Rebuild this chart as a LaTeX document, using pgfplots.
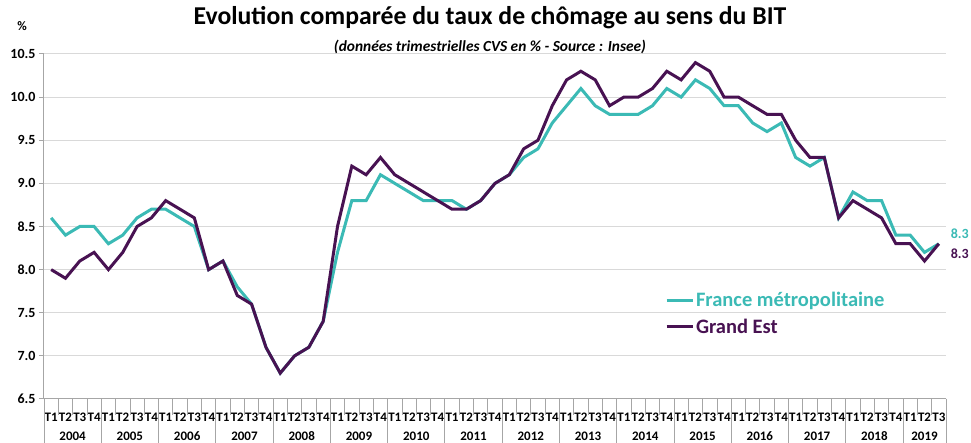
\documentclass[border=0pt]{standalone}
\usepackage{pgfplots}
\pgfplotsset{compat=1.18}
\usepackage{pgfplotstable}
\usepackage{fontspec}
\setmainfont{Carlito}
\definecolor{frcol}{RGB}{59,186,181}
\definecolor{gecol}{RGB}{72,18,82}
\definecolor{gridc}{RGB}{217,217,217}
\definecolor{axc}{RGB}{166,166,166}

% quarterly unemployment rate, 2004T1 .. 2019T3
\pgfplotstableread{
idx fr ge
0 8.6 8.0
1 8.4 7.9
2 8.5 8.1
3 8.5 8.2
4 8.3 8.0
5 8.4 8.2
6 8.6 8.5
7 8.7 8.6
8 8.7 8.8
9 8.6 8.7
10 8.5 8.6
11 8.0 8.0
12 8.1 8.1
13 7.8 7.7
14 7.6 7.6
15 7.1 7.1
16 6.8 6.8
17 7.0 7.0
18 7.1 7.1
19 7.4 7.4
20 8.2 8.5
21 8.8 9.2
22 8.8 9.1
23 9.1 9.3
24 9.0 9.1
25 8.9 9.0
26 8.8 8.9
27 8.8 8.8
28 8.8 8.7
29 8.7 8.7
30 8.8 8.8
31 9.0 9.0
32 9.1 9.1
33 9.3 9.4
34 9.4 9.5
35 9.7 9.9
36 9.9 10.2
37 10.1 10.3
38 9.9 10.2
39 9.8 9.9
40 9.8 10.0
41 9.8 10.0
42 9.9 10.1
43 10.1 10.3
44 10.0 10.2
45 10.2 10.4
46 10.1 10.3
47 9.9 10.0
48 9.9 10.0
49 9.7 9.9
50 9.6 9.8
51 9.7 9.8
52 9.3 9.5
53 9.2 9.3
54 9.3 9.3
55 8.6 8.6
56 8.9 8.8
57 8.8 8.7
58 8.8 8.6
59 8.4 8.3
60 8.4 8.3
61 8.2 8.1
62 8.3 8.3
}\chomage

\begin{document}
\begin{tikzpicture}
\begin{axis}[
    at={(44pt,44pt)}, anchor=south west,
    scale only axis, width=902pt, height=345pt,
    xmin=-0.5, xmax=62.5, ymin=6.5, ymax=10.5,
    axis x line*=bottom, axis y line*=left,
    axis line style={axc, line width=1pt},
    xtick={0,...,62},
    xticklabels={T1,T2,T3,T4,T1,T2,T3,T4,T1,T2,T3,T4,T1,T2,T3,T4,T1,T2,T3,T4,
      T1,T2,T3,T4,T1,T2,T3,T4,T1,T2,T3,T4,T1,T2,T3,T4,T1,T2,T3,T4,
      T1,T2,T3,T4,T1,T2,T3,T4,T1,T2,T3,T4,T1,T2,T3,T4,T1,T2,T3,T4,T1,T2,T3},
    xtick style={draw=none},
    xticklabel style={anchor=base, yshift=-18pt, font=\fontsize{13}{13}\selectfont\bfseries},
    ytick={6.5,7.0,7.5,8.0,8.5,9.0,9.5,10.0,10.5},
    ytick style={axc, line width=1pt},
    major tick length=5pt, tick align=outside,
    yticklabel style={font=\fontsize{14}{14}\selectfont\bfseries,
      /pgf/number format/.cd, fixed, fixed zerofill, precision=1, assume math mode=true},
    ymajorgrids, grid style={gridc, line width=1pt},
    clip=false,
    legend style={draw=none, fill=none, at={(rel axis cs:0.685,0.322)}, anchor=north west,
      font=\fontsize{20.5}{22}\selectfont\bfseries, row sep=7pt},
    legend cell align=left,
    legend image code/.code={\draw[#1] (0pt,0pt) -- (26pt,0pt);},
]
\addplot[frcol, line width=3pt] table[x=idx, y=fr] {\chomage};
\addlegendentry{\textcolor{frcol}{France métropolitaine}}
\addplot[gecol, line width=3pt] table[x=idx, y=ge] {\chomage};
\addlegendentry{\textcolor{gecol}{Grand Est}}

% separators under the axis
\pgfplotsinvokeforeach{-0.5,0.5,...,62.5}{
  \draw[axc, line width=0.8pt] (axis cs:#1,6.5) -- ++(0pt,-16pt);
}
\pgfplotsinvokeforeach{-0.5,3.5,...,59.5,62.5}{
  \draw[axc, line width=0.8pt] (axis cs:#1,6.5) -- ++(0pt,-50pt);
}
\pgfplotsinvokeforeach{0,...,14}{
  \node[anchor=base, font=\fontsize{13}{13}\selectfont\bfseries, yshift=-42pt]
    at (axis cs:{4*#1+1.5},6.5) {\the\numexpr2004+#1\relax};
}
\node[anchor=base, font=\fontsize{13}{13}\selectfont\bfseries, yshift=-42pt]
  at (axis cs:61,6.5) {2019};

\node[font=\fontsize{14}{14}\selectfont\bfseries, text=frcol, xshift=21pt, yshift=10pt]
  at (axis cs:62,8.3) {8.3};
\node[font=\fontsize{14}{14}\selectfont\bfseries, text=gecol, xshift=21pt, yshift=-10pt]
  at (axis cs:62,8.3) {8.3};
\end{axis}

\node[font=\fontsize{25.7}{26}\selectfont\bfseries] at (490pt,425pt)
  {Evolution comparée du taux de chômage au sens du BIT};
\node[font=\fontsize{15.4}{16}\selectfont\bfseries\itshape] at (490pt,396pt)
  {(données trimestrielles CVS en \% - Source : Insee)};
\node[font=\fontsize{13}{13}\selectfont\bfseries] at (22pt,417pt) {\%};

\pgfresetboundingbox
\path[use as bounding box] (0pt,0pt) rectangle (971pt,443pt);
\end{tikzpicture}
\end{document}
